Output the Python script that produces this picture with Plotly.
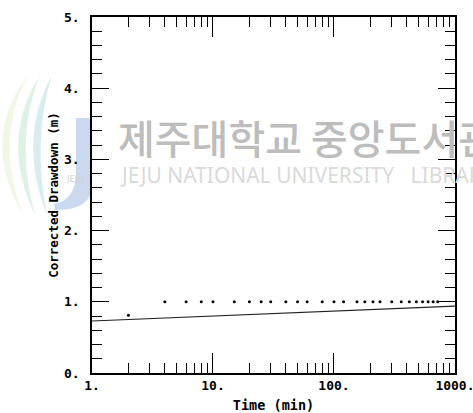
import plotly.graph_objects as go

# Observed corrected drawdown (m) versus elapsed time (min)
time_min = [2, 4, 6, 8, 10, 15, 20, 25, 30, 40, 50, 60, 80, 100, 120, 155, 180,
            210, 240, 300, 360, 420, 480, 540, 600, 660, 720]
drawdown_m = [0.81, 1.0, 1.0, 1.0, 1.0, 1.0, 1.0, 1.0, 1.0, 1.0, 1.0, 1.0, 1.0,
              1.0, 1.0, 1.0, 1.0, 1.0, 1.0, 1.0, 1.0, 1.0, 1.0, 1.0, 1.0, 1.0, 1.0]

# Straight-line fit on the semi-log plot
fit_time = [1, 1000]
fit_drawdown = [0.73, 0.94]

x_ticks = [1, 10, 100, 1000]
x_tick_text = ["1.", "10.", "100.", "1000."]
y_ticks = [0, 1, 2, 3, 4, 5]
y_tick_text = ["0.", "1.", "2.", "3.", "4.", "5."]
x_minor = [m * d for d in (1, 10, 100) for m in range(2, 10)]

W, H = 473, 413
L, R, T, B = 92, 18, 17, 40
PW, PH = W - L - R, H - T - B


def px(x):
    return (x - L) / PW


def py(y):
    return (H - B - y) / PH


fig = go.Figure()

fig.add_trace(go.Scatter(
    x=fit_time, y=fit_drawdown, mode="lines",
    line=dict(color="#222222", width=1.2), hoverinfo="skip", showlegend=False,
))
fig.add_trace(go.Scatter(
    x=time_min, y=drawdown_m, mode="markers",
    marker=dict(color="black", size=3), showlegend=False,
))

mono = "DejaVu Sans Mono"

# Library watermark: logo and text
shapes = []
# blue "J" mark
j_path = "M {} {} L {} {} L {} {} Q {} {} {} {} L {} {} Q {} {} {} {} Z".format(
    px(76), py(118), px(92), py(118), px(92), py(188),
    px(90), py(210), px(55), py(210), px(54), py(204),
    px(76), py(200), px(76), py(172))
shapes.append(dict(type="path", path=j_path, xref="paper", yref="paper",
                   fillcolor="rgba(150,180,225,0.5)", line=dict(width=0), layer="below"))
# green/teal swooshes
for (x0, c, col) in [(30, 4, "rgba(150,205,170,0.30)"), (42, 10, "rgba(120,190,200,0.28)"),
                     (18, -4, "rgba(200,225,170,0.28)")]:
    sw = "M {} {} Q {} {} {} {} Q {} {} {} {} Z".format(
        px(x0 + 10), py(75), px(x0 - 35 + c), py(140), px(x0 + 5), py(215),
        px(x0 - 20 + c), py(140), px(x0 + 10), py(75))
    shapes.append(dict(type="path", path=sw, xref="paper", yref="paper",
                       fillcolor=col, line=dict(width=0), layer="below"))

annotations = [
    dict(text="제주대학교 중앙도서관", x=px(116), y=py(137), xref="paper", yref="paper",
         xanchor="left", yanchor="middle", showarrow=False,
         font=dict(family="Noto Sans CJK KR", size=40, color="#bdbdbd", weight=500)),
    dict(text="JEJU NATIONAL UNIVERSITY&nbsp;&nbsp;&nbsp;LIBRARY", x=px(118), y=py(175),
         xref="paper", yref="paper", xanchor="left", yanchor="middle", showarrow=False,
         font=dict(family="Noto Sans", size=21, color="#dadada")),
    dict(text="JEJU", x=px(64), y=py(178), xref="paper", yref="paper",
         showarrow=False, font=dict(family="Noto Sans", size=9, color="#d0d0d0")),
]

fig.update_layout(
    width=W, height=H,
    margin=dict(l=L, r=R, t=T, b=B),
    paper_bgcolor="white", plot_bgcolor="rgba(0,0,0,0)",
    shapes=shapes, annotations=annotations,
    font=dict(family=mono, color="black"),
    xaxis=dict(
        type="log", range=[0, 3.0004], automargin=False,
        tickvals=x_ticks, ticktext=x_tick_text, ticklabeloverflow="allow",
        ticks="inside", ticklen=20, tickwidth=1.2, tickcolor="black",
        minor=dict(tickvals=x_minor, ticks="inside", ticklen=10, tickwidth=1.2,
                   tickcolor="black", showgrid=False),
        showline=True, linecolor="black", linewidth=1.5, mirror="ticks",
        showgrid=False, zeroline=False,
        tickfont=dict(family=mono, size=13, weight="bold"),
        title=dict(text="Time (min)", font=dict(family=mono, size=13.5, weight="bold"),
                   standoff=12),
    ),
    yaxis=dict(
        range=[0, 5], automargin=False,
        tickvals=y_ticks, ticktext=y_tick_text,
        ticks="inside", ticklen=17, tickwidth=1.2, tickcolor="black",
        minor=dict(dtick=0.2, ticks="inside", ticklen=10, tickwidth=1.2,
                   tickcolor="black", showgrid=False),
        showline=True, linecolor="black", linewidth=1.5, mirror="ticks",
        showgrid=False, zeroline=False,
        ticklabelstandoff=8,
        tickfont=dict(family=mono, size=13, weight="bold"),
        title=dict(text="Corrected Drawdown (m)",
                   font=dict(family=mono, size=12.5, weight="bold"), standoff=3),
    ),
)

fig.write_html("out.html")
